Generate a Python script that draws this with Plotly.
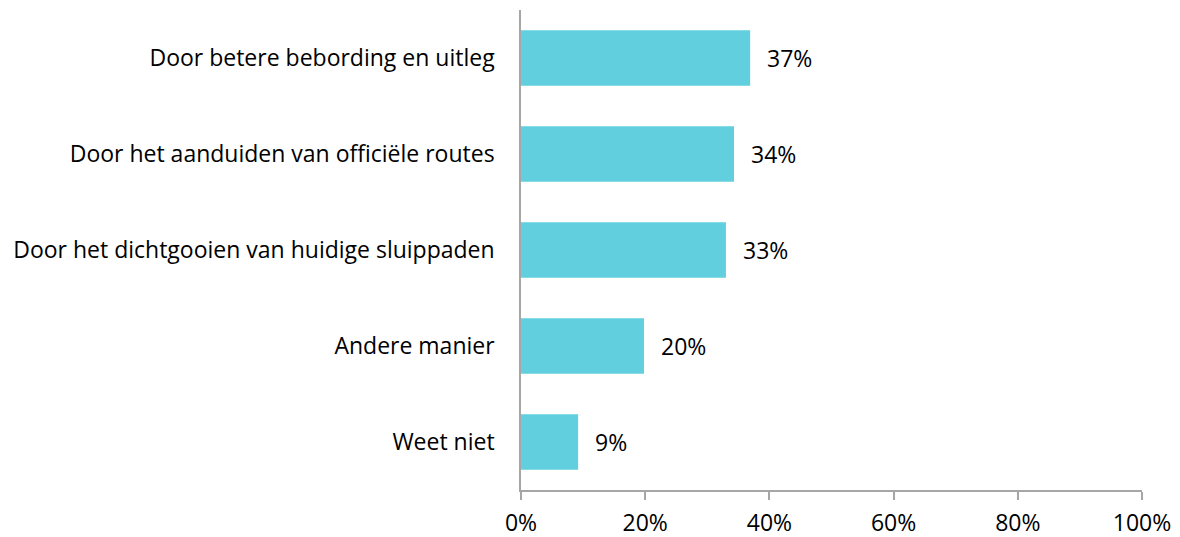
import plotly.graph_objects as go

categories = [
    "Door betere bebording en uitleg",
    "Door het aanduiden van officiële routes",
    "Door het dichtgooien van huidige sluippaden",
    "Andere manier",
    "Weet niet",
]
values = [36.9, 34.3, 33.0, 19.8, 9.2]
value_labels = ["37%", "34%", "33%", "20%", "9%"]
x_ticks = [0, 20, 40, 60, 80, 100]
x_tick_labels = ["0%", "20%", "40%", "60%", "80%", "100%"]

FONT = "Open Sans, Carlito, Calibri, sans-serif"
FS = 23

fig = go.Figure(
    go.Bar(
        x=values,
        y=categories,
        orientation="h",
        marker=dict(color="#62CFDE", line=dict(width=0)),
        width=0.58,
        hoverinfo="skip",
    )
)

for v, lab, cat in zip(values, value_labels, categories):
    fig.add_annotation(
        x=v, y=cat, text=lab, showarrow=False,
        xanchor="left", xshift=15,
        font=dict(family=FONT, size=FS, color="#000000"),
    )

fig.update_layout(
    width=1164, height=529,
    margin=dict(l=513, r=30, t=2, b=47),
    paper_bgcolor="white", plot_bgcolor="white",
    showlegend=False,
    font=dict(family=FONT, size=FS, color="#000000"),
)
fig.update_xaxes(
    range=[0, 100], tickvals=x_ticks, ticktext=x_tick_labels,
    showgrid=False, zeroline=False, automargin=False,
    showline=True, linecolor="#A6A6A6", linewidth=1.5,
    ticks="outside", ticklen=8, tickcolor="#A6A6A6", tickwidth=1.5,
    ticklabelstandoff=4,
    tickfont=dict(family=FONT, size=FS, color="#000000"),
)
fig.update_yaxes(
    categoryorder="array", categoryarray=categories[::-1],
    showgrid=False, zeroline=False, automargin=False,
    showline=True, linecolor="#A6A6A6", linewidth=1.5,
    ticks="", ticklabelstandoff=20,
    tickfont=dict(family=FONT, size=FS, color="#000000"),
)

fig.write_html("out.html")
